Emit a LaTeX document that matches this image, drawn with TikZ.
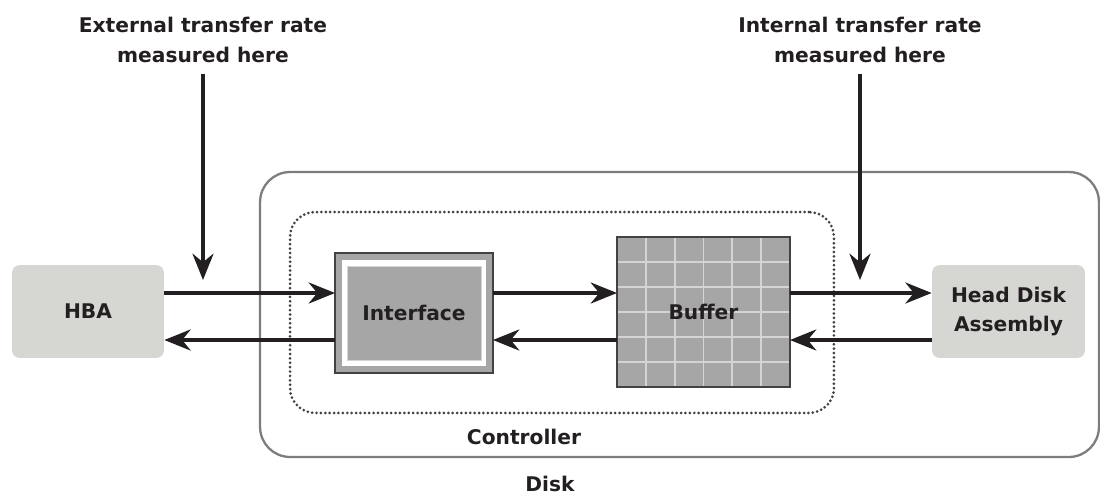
\documentclass[tikz,border=0pt]{standalone}
\usepackage{fontspec}
\setmainfont{DejaVu Sans}
\usetikzlibrary{arrows.meta,calc,positioning}

\begin{document}
\begin{tikzpicture}[x=0.02cm,y=-0.02cm]
  % Colors
  \definecolor{boxcolor}{RGB}{214,214,210}
  \definecolor{partcolor}{RGB}{166,166,166}
  \definecolor{gridcolor}{RGB}{212,212,212}
  \definecolor{inkcolor}{RGB}{35,31,32}
  \definecolor{diskcolor}{RGB}{125,125,125}

  % Styles
  \tikzstyle{every node}=[font=\fontsize{11.5}{17}\selectfont\bfseries,text=inkcolor]
  \tikzstyle{end box}=[rectangle,rounded corners=4.5pt,fill=boxcolor,minimum width=3.04cm,minimum height=1.86cm,align=center]
  \tikzstyle{part box}=[rectangle,outer sep=0pt,fill=partcolor]
  \tikzstyle{flow}=[line width=1.9pt,draw=inkcolor,-{Stealth[length=15pt,width=12pt]}]
  \tikzstyle{rate text}=[align=center,inner sep=0pt,anchor=south]

  \useasboundingbox (0,0) rectangle (1100,498);

  % Containers
  \node[draw=diskcolor,line width=1.3pt,rounded corners=0.6cm,minimum width=16.78cm,minimum height=5.7cm] (disk) at (679.5,314.5) {};
  \node (disklbl) at (550,484) {Disk};
  \node[draw=inkcolor!85,line width=1.7pt,line cap=round,dash pattern=on 0pt off 2.5pt,rounded corners=0.5cm,minimum width=10.88cm,minimum height=4.02cm] (ctrl) at (562,312.5) {};
  \node (ctrllbl) at (524,437) {Controller};

  % End points
  \node[end box] (hba) at (88,311.5) {HBA};
  \node[end box,minimum width=3.06cm] (hda) at (1008.5,311.5) {Head Disk\\Assembly};

  % Interface
  \node[part box,draw=inkcolor!85,line width=0.9pt,minimum width=3.16cm,minimum height=2.4cm] (iface) at (414,313) {};
  \node[part box,fill=white,minimum width=2.9cm,minimum height=2.14cm] (ifacegap) at (iface) {};
  \node[part box,draw=gridcolor,line width=0.5pt,minimum width=2.68cm,minimum height=1.88cm] (ifacein) at (iface) {Interface};

  % Buffer
  \node[part box,minimum width=3.46cm,minimum height=3cm] (buffer) at (703.5,312) {};
  \foreach \i in {1,...,5}{
    \draw[gridcolor,line width=1.1pt] ($(buffer.north west)!\i/6!(buffer.north east)$) -- ($(buffer.south west)!\i/6!(buffer.south east)$);
    \draw[gridcolor,line width=1.1pt] ($(buffer.north west)!\i/6!(buffer.south west)$) -- ($(buffer.north east)!\i/6!(buffer.south east)$);
  }
  \draw[inkcolor!85,line width=0.9pt] (buffer.north west) rectangle (buffer.south east);
  \node (buflbl) at (buffer.center) {Buffer};

  % Data paths
  \coordinate (up) at (0,293);
  \coordinate (dn) at (0,340);
  \draw[flow] (hba.east |- up) -- (iface.west |- up);
  \draw[flow] (iface.west |- dn) -- (hba.east |- dn);
  \draw[flow] (iface.east |- up) -- (buffer.west |- up);
  \draw[flow] (buffer.west |- dn) -- (iface.east |- dn);
  \draw[flow] (buffer.east |- up) -- (hda.west |- up);
  \draw[flow] (hda.west |- dn) -- (buffer.east |- dn);

  % Measuring points
  \node[rate text] (extlbl) at (203,63) {External transfer rate\\measured here};
  \node[rate text] (intlbl) at (860,63) {Internal transfer rate\\measured here};
  \coordinate (extpt) at (203,280);
  \coordinate (intpt) at (860,280);
  \draw[flow,shorten <=6.5pt] (extlbl.south) -- (extpt);
  \draw[flow,shorten <=6.5pt] (intlbl.south) -- (intpt);

\end{tikzpicture}
\end{document}
